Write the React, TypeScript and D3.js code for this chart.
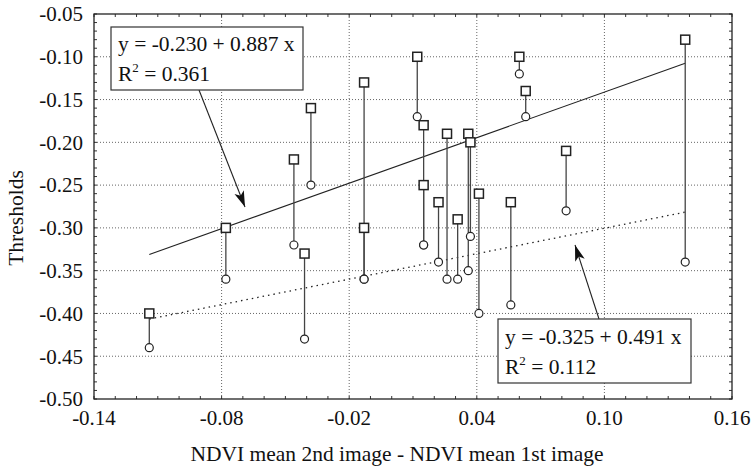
import React from "react";
import * as d3 from "d3";

const pairX = [-0.114, -0.078, -0.046, -0.041, -0.038, -0.013, -0.013, 0.012, 0.015, 0.015, 0.022, 0.026, 0.031, 0.036, 0.037, 0.041, 0.056, 0.060, 0.063, 0.082, 0.138];
const squareY = [-0.40, -0.30, -0.22, -0.33, -0.16, -0.13, -0.30, -0.10, -0.18, -0.25, -0.27, -0.19, -0.29, -0.19, -0.20, -0.26, -0.27, -0.10, -0.14, -0.21, -0.08];
const circleY = [-0.44, -0.36, -0.32, -0.43, -0.25, -0.36, -0.36, -0.17, -0.32, -0.32, -0.34, -0.36, -0.36, -0.35, -0.31, -0.40, -0.39, -0.12, -0.17, -0.28, -0.34];

const xTicks = [-0.14, -0.08, -0.02, 0.04, 0.10, 0.16];
const xTickLabels = ["-0.14", "-0.08", "-0.02", "0.04", "0.10", "0.16"];
const yTicks = [-0.05, -0.10, -0.15, -0.20, -0.25, -0.30, -0.35, -0.40, -0.45, -0.50];
const yTickLabels = ["-0.05", "-0.10", "-0.15", "-0.20", "-0.25", "-0.30", "-0.35", "-0.40", "-0.45", "-0.50"];

const solidFit = [-0.230, 0.887];
const dottedFit = [-0.350, 0.496];
const eq1 = ["y = -0.230 + 0.887 x", "0.361"];
const eq2 = ["y = -0.325 + 0.491 x", "0.112"];

const xLabel = "NDVI mean 2nd image - NDVI mean 1st image";
const yLabel = "Thresholds";

export default function App() {
  const L = 94, R = 732, T = 14, B = 399;
  const x = d3.scaleLinear().domain([-0.14, 0.16]).range([L, R]);
  const y = d3.scaleLinear().domain([-0.5, -0.05]).range([B, T]);
  const font = "'Liberation Serif', 'Times New Roman', serif";
  const ext = d3.extent(pairX) as [number, number];
  const fitPath = (f: number[]) =>
    d3.line<number>().x((d) => x(d)).y((d) => y(f[0] + f[1] * d))(ext) as string;

  const xMinor = d3.range(-0.14, 0.1601, 0.01);
  const yMinor = d3.range(-0.5, -0.0499, 0.01);

  const arrowHead = (x1: number, y1: number, x2: number, y2: number, len = 16, w = 5) => {
    const a = Math.atan2(y2 - y1, x2 - x1);
    const bx = x2 - len * Math.cos(a), by = y2 - len * Math.sin(a);
    const px = -Math.sin(a) * w, py = Math.cos(a) * w;
    return `M${x2},${y2}L${bx + px},${by + py}L${bx + len * 0.25 * Math.cos(a)},${by + len * 0.25 * Math.sin(a)}L${bx - px},${by - py}Z`;
  };

  const fs = 21.5;

  return (
    <svg width={756} height={467} style={{ position: "absolute", left: 0, top: 0, background: "#fff" }} fontFamily={font}>
      {/* grid */}
      {xTicks.slice(1, -1).map((t, i) => (
        <line key={"gx" + i} x1={x(t)} x2={x(t)} y1={T} y2={B} stroke="#666" strokeWidth={1} strokeDasharray="1,2" />
      ))}
      {yTicks.slice(1, -1).map((t, i) => (
        <line key={"gy" + i} x1={L} x2={R} y1={y(t)} y2={y(t)} stroke="#666" strokeWidth={1} strokeDasharray="1,2" />
      ))}
      {/* minor ticks */}
      {xMinor.map((t, i) => (
        <g key={"xm" + i}>
          <line x1={x(t)} x2={x(t)} y1={B} y2={B - 3} stroke="#333" />
          <line x1={x(t)} x2={x(t)} y1={T} y2={T + 3} stroke="#333" />
        </g>
      ))}
      {yMinor.map((t, i) => (
        <g key={"ym" + i}>
          <line x1={L} x2={L + 3} y1={y(t)} y2={y(t)} stroke="#333" />
          <line x1={R} x2={R - 3} y1={y(t)} y2={y(t)} stroke="#333" />
        </g>
      ))}
      {/* frame */}
      <rect x={L} y={T} width={R - L} height={B - T} fill="none" stroke="#222" strokeWidth={1.3} />
      {/* tick labels */}
      {yTicks.map((t, i) => (
        <text key={"yl" + i} x={83} y={y(t)} dy="0.35em" textAnchor="end" fontSize={21} fill="#111">{yTickLabels[i]}</text>
      ))}
      {xTicks.map((t, i) => (
        <text key={"xl" + i} x={x(t)} y={425} textAnchor="middle" fontSize={21} fill="#111">{xTickLabels[i]}</text>
      ))}
      {/* axis labels */}
      <text x={397} y={461} textAnchor="middle" fontSize={fs} fill="#111">{xLabel}</text>
      <text transform={`translate(23,${218}) rotate(-90)`} textAnchor="middle" fontSize={fs} fill="#111">{yLabel}</text>
      {/* fit lines */}
      <path d={fitPath(solidFit)} fill="none" stroke="#222" strokeWidth={1.1} />
      <path d={fitPath(dottedFit)} fill="none" stroke="#222" strokeWidth={1.3} strokeDasharray="1.5,4" />
      {/* connecting lines */}
      {pairX.map((px, i) => (
        <line key={"c" + i} x1={x(px)} x2={x(px)} y1={y(squareY[i])} y2={y(circleY[i])} stroke="#444" strokeWidth={1.3} />
      ))}
      {/* circles */}
      {pairX.map((px, i) => (
        <circle key={"o" + i} cx={x(px)} cy={y(circleY[i])} r={4} fill="#fff" stroke="#222" strokeWidth={1.2} />
      ))}
      {/* squares */}
      {pairX.map((px, i) => (
        <rect key={"s" + i} x={x(px) - 4.5} y={y(squareY[i]) - 4.5} width={9} height={9} fill="#fff" stroke="#222" strokeWidth={1.5} />
      ))}
      {/* annotation 1 */}
      <line x1={199} y1={90} x2={245} y2={207} stroke="#222" strokeWidth={1.1} />
      <path d={arrowHead(199, 90, 245, 207)} fill="#111" />
      <rect x={111} y={27} width={192} height={63} fill="#fff" stroke="#333" strokeWidth={1.2} />
      <text x={118} y={51} fontSize={fs} fill="#111">{eq1[0]}</text>
      <text x={118} y={81} fontSize={fs} fill="#111">R<tspan dy={-9} fontSize={13}>2</tspan><tspan dy={9}> = {eq1[1]}</tspan></text>
      {/* annotation 2 */}
      <line x1={599} y1={319} x2={575} y2={245} stroke="#222" strokeWidth={1.1} />
      <path d={arrowHead(599, 319, 575, 245)} fill="#111" />
      <rect x={498} y={319} width={193} height={64} fill="#fff" stroke="#333" strokeWidth={1.2} />
      <text x={505} y={344} fontSize={fs} fill="#111">{eq2[0]}</text>
      <text x={505} y={374} fontSize={fs} fill="#111">R<tspan dy={-9} fontSize={13}>2</tspan><tspan dy={9}> = {eq2[1]}</tspan></text>
    </svg>
  );
}
